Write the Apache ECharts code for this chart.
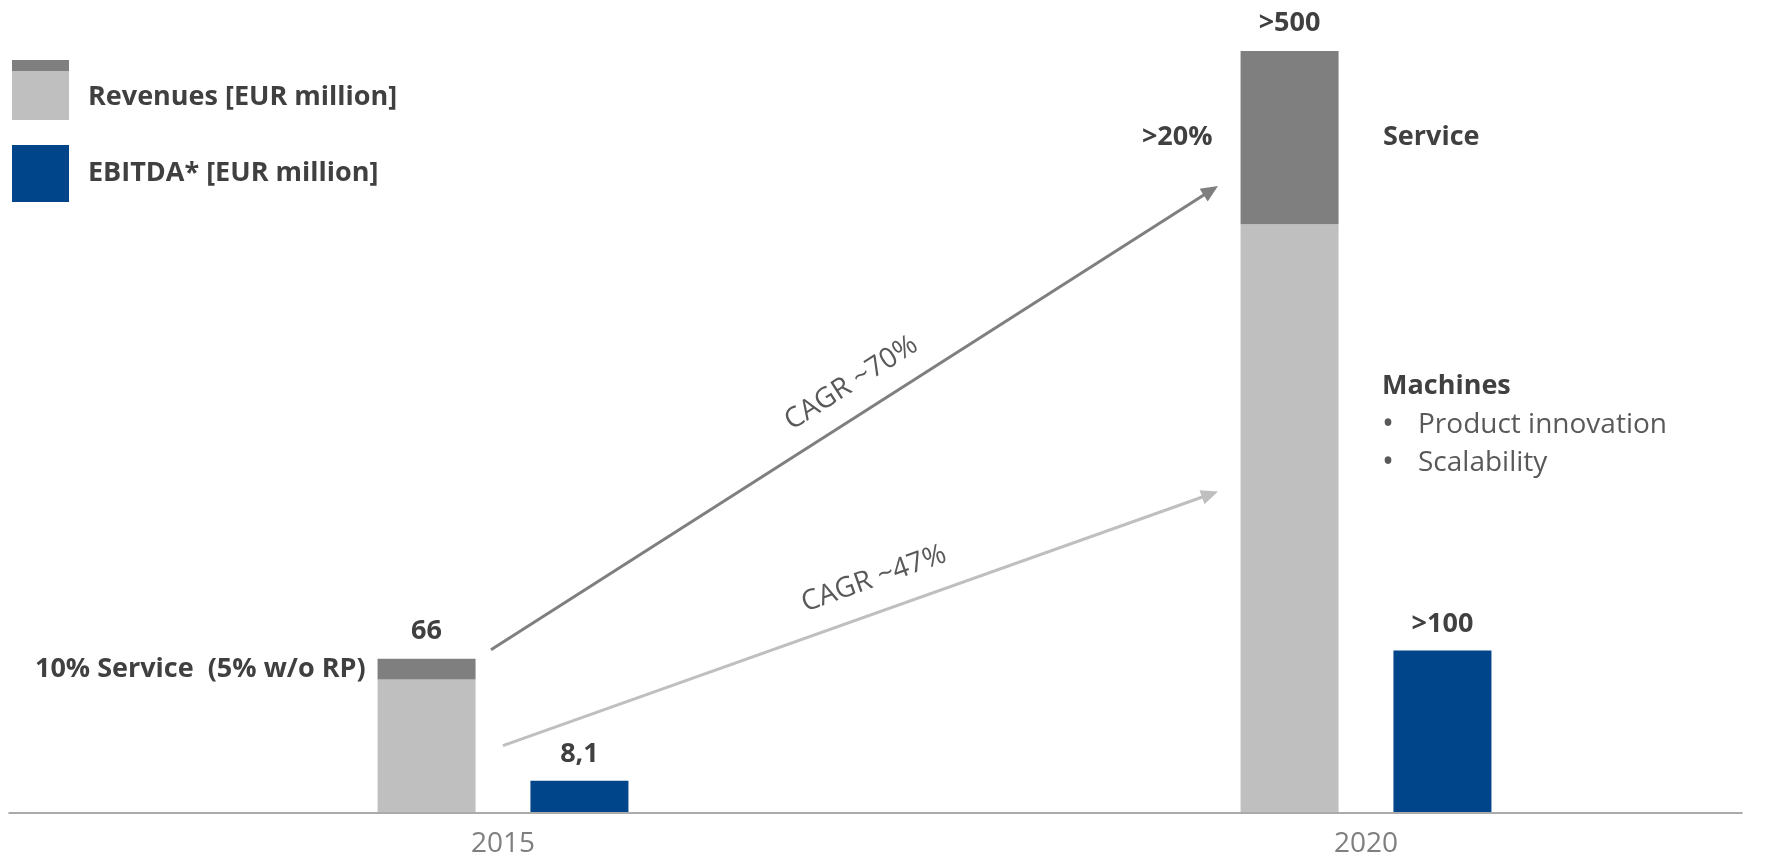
<!DOCTYPE html>
<html>
<head>
<meta charset="utf-8">
<script src="https://cdn.jsdelivr.net/npm/echarts@6/dist/echarts.min.js"></script>
<style>
html,body{margin:0;padding:0;background:#fff;}
#chart{width:1765px;height:858px;}
</style>
</head>
<body>
<div id="chart"></div>
<script>
// Bar heights as drawn in the (not-to-scale) reference, in units where 2015 revenue = 66
const categories = ['2015', '2020'];
const revenueMachines = [57, 253];
const revenueService = [9, 74.5];
const ebitda = [13.5, 69.5];
// Printed figures
const revenueLabels = ['66', '>500'];
const ebitdaLabels = ['8,1', '>100'];
const serviceShareLabels = ['10% Service  (5% w/o RP)', '>20%'];
const cagrLabels = ['CAGR ~70%', 'CAGR ~47%'];
const segmentLabels = ['Service', 'Machines'];
const machineBullets = ['Product innovation', 'Scalability'];
const legendNames = ['Revenues [EUR million]', 'EBITDA* [EUR million]'];

const FONT = '"Open Sans", Lato, sans-serif';
const FSB = 27;   // bold texts
const FSR = 28;   // regular texts
const DARK = '#404040';
const MID = '#595959';
const C_MACH = '#bfbfbf', C_SERV = '#7f7f7f', C_EBITDA = '#00458a';

function svgIcon(inner) {
  return 'image://data:image/svg+xml;charset=utf-8,' + encodeURIComponent(
    "<svg xmlns='http://www.w3.org/2000/svg' width='57' height='76' viewBox='0 0 57 76' preserveAspectRatio='none'>" +
    inner + "</svg>");
}
const revIcon = svgIcon("<rect y='1' width='57' height='60' fill='" + C_MACH + "'/><rect y='1' width='57' height='11' fill='" + C_SERV + "'/>");
const ebIcon = svgIcon("<rect y='10' width='57' height='57' fill='" + C_EBITDA + "'/>");

const chart = echarts.init(document.getElementById('chart'), null, {renderer: 'canvas'});

const boldLabel = {fontFamily: FONT, fontSize: FSB, fontWeight: 'bold', color: DARK};

const option = {
  backgroundColor: '#ffffff',
  animation: false,
  legend: {
    orient: 'vertical', left: 12, top: 59, padding: 0,
    itemWidth: 57, itemHeight: 76, itemGap: 0,
    selectedMode: false,
    textStyle: {fontFamily: FONT, fontSize: FSB, fontWeight: 'bold', color: DARK, padding: [0, 0, 0, 14]},
    data: [
      {name: legendNames[0], icon: revIcon},
      {name: legendNames[1], icon: ebIcon}
    ]
  },
  grid: [
    {left: 503, right: 399, top: 22, bottom: 45.5},
    {left: 9, right: 23, top: 22, bottom: 45.5}
  ],
  xAxis: [
    {type: 'category', gridIndex: 0, data: categories, boundaryGap: false,
     axisLine: {show: false}, axisTick: {show: false}, splitLine: {show: false},
     axisLabel: {margin: 18, fontFamily: FONT, fontSize: 28, color: '#7f7f7f'}},
    {type: 'value', gridIndex: 1, min: 0, max: 1,
     axisLine: {show: true, onZero: false, lineStyle: {color: '#8f8f8f', width: 1.5}},
     axisTick: {show: false}, axisLabel: {show: false}, splitLine: {show: false}}
  ],
  yAxis: [
    {type: 'value', gridIndex: 0, min: 0, max: 340, show: false, splitLine: {show: false}},
    {type: 'value', gridIndex: 1, min: 0, max: 1, show: false, splitLine: {show: false}}
  ],
  series: [
    {name: legendNames[0], type: 'bar', stack: 'rev', barWidth: 98, barGap: '56%', clip: false,
     itemStyle: {color: C_MACH}, data: revenueMachines},
    {name: 'Service', type: 'bar', stack: 'rev', barWidth: 98, barGap: '56%', clip: false,
     itemStyle: {color: C_SERV},
     data: revenueService.map((v, i) => ({
       value: v,
       label: {show: true, position: 'left', distance: i === 0 ? 12 : 28,
               formatter: serviceShareLabels[i], ...boldLabel}
     }))},
    {name: 'Revenue total', type: 'bar', stack: 'rev', barWidth: 98, barGap: '56%', clip: false,
     itemStyle: {color: 'rgba(0,0,0,0)'},
     data: revenueMachines.map(() => 0),
     label: {show: true, position: 'top', distance: 14,
             formatter: p => revenueLabels[p.dataIndex], ...boldLabel}},
    {name: legendNames[1], type: 'bar', barWidth: 98, barGap: '56%', clip: false,
     itemStyle: {color: C_EBITDA}, data: ebitda,
     label: {show: true, position: 'top', distance: 13,
             formatter: p => ebitdaLabels[p.dataIndex], ...boldLabel}}
  ]
};
chart.setOption(option);

// Annotations placed relative to the bars through the chart's scales
const cx = c => chart.convertToPixel({xAxisIndex: 0}, c);
const py = v => chart.convertToPixel({yAxisIndex: 0}, v);
const c15 = cx(categories[0]), c20 = cx(categories[1]);
const top15 = py(revenueMachines[0] + revenueService[0]);
const top20 = py(revenueMachines[1] + revenueService[1]);
const servMid20 = py(revenueMachines[1] + revenueService[1] / 2);
const eb15 = py(ebitda[0]), eb20 = py(ebitda[1]);

function arrow(x1, y1, x2, y2, color, label, t, d) {
  const dx = x2 - x1, dy = y2 - y1, L = Math.hypot(dx, dy);
  const ux = dx / L, uy = dy / L, nx = uy, ny = -ux; // normal pointing up-left
  const hl = 17, hw = 7.5;
  const bx = x2 - ux * hl, by = y2 - uy * hl;
  const mx = (x1 + x2) / 2 + ux * t + nx * d, my = (y1 + y2) / 2 + uy * t + ny * d;
  const ang = Math.atan2(-dy, dx);
  return [
    {type: 'line', shape: {x1: x1, y1: y1, x2: bx + ux * 2, y2: by + uy * 2},
     style: {stroke: color, lineWidth: 3}},
    {type: 'polygon', shape: {points: [[x2, y2], [bx - uy * hw, by + ux * hw], [bx + uy * hw, by - ux * hw]]},
     style: {fill: color}},
    {type: 'text', x: mx, y: my, rotation: ang,
     style: {text: label, fontFamily: FONT, fontSize: FSR, fill: MID, align: 'center', verticalAlign: 'middle'}}
  ];
}

const g = [];
g.push(...arrow(c15 - 12, top15 - 9, c20 - 148, top20 + 135, C_SERV, cagrLabels[0], 16, 31));
g.push(...arrow(c15 + 0, eb15 - 35, c20 - 148, eb20 - 159, C_MACH, cagrLabels[1], 26, 33));

g.push({type: 'text', x: c20 + 17, y: servMid20,
  style: {text: segmentLabels[0], fontFamily: FONT, fontSize: FSB, fontWeight: 'bold', fill: DARK, align: 'left', verticalAlign: 'middle'}});
g.push({type: 'text', x: c20 + 16, y: top20 + 335,
  style: {text: segmentLabels[1], fontFamily: FONT, fontSize: FSB, fontWeight: 'bold', fill: DARK, align: 'left', verticalAlign: 'middle'}});
machineBullets.forEach((b, i) => {
  const yy = top20 + 374 + i * 38;
  g.push({type: 'text', x: c20 + 16, y: yy,
    style: {text: '\u2022', fontFamily: FONT, fontSize: FSR + 4, fill: MID, align: 'left', verticalAlign: 'middle'}});
  g.push({type: 'text', x: c20 + 52, y: yy,
    style: {text: b, fontFamily: FONT, fontSize: FSR, fill: MID, align: 'left', verticalAlign: 'middle'}});
});

chart.setOption({graphic: g});
</script>
</body>
</html>
